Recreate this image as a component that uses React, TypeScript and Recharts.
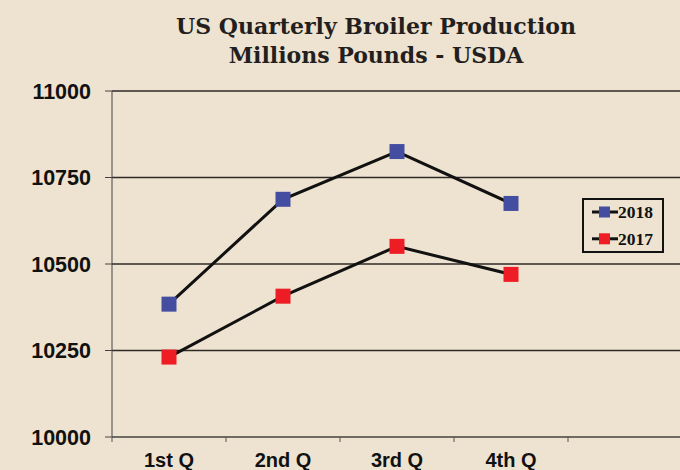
import React from "react"
import { LineChart, Line, XAxis, YAxis, CartesianGrid, Legend } from "recharts"

const quarters = ["1st Q", "2nd Q", "3rd Q", "4th Q", ""]
const prod2018 = [10384, 10687, 10825, 10675, null]
const prod2017 = [10231, 10407, 10551, 10470, null]
const yTicks = [10000, 10250, 10500, 10750, 11000]

const BG = "#eee3d0"
const BLUE = "#444ea0"
const RED = "#ee1c25"

const data = quarters.map((q, i) => ({ q, y2018: prod2018[i], y2017: prod2017[i] }))

const square = (color: string, size: number) => (props: any) => {
  const { cx, cy, index } = props
  if (cx == null || cy == null || props.value == null) return <g key={index} />
  return <rect key={index} x={cx - size / 2} y={cy - size / 2} width={size} height={size} fill={color} />
}

const QuarterTick = (props: any) => {
  const { x, y, payload } = props
  const half = payload && payload.offset ? payload.offset : 57
  const edge = x - half
  return (
    <g>
      <line x1={edge} y1={y} x2={edge} y2={y + 5} stroke="#555" strokeWidth={1} />
      <text x={x} y={y + 30} textAnchor="middle" fontFamily="Liberation Sans, Arial" fontWeight="bold" fontSize={20} fill="#111">
        {payload.value}
      </text>
    </g>
  )
}

const LegendBox = (props: any) => {
  // newest year on top
  const items = [...(props.payload || [])].sort((a: any, b: any) => (a.value < b.value ? 1 : -1))
  return (
    <svg width={82} height={55} style={{ display: "block" }}>
      <rect x={1} y={1} width={80} height={53} fill="none" stroke="#111" strokeWidth={2} />
      {items.map((it: any, i: number) => {
        const cy = 14 + i * 26.8
        return (
          <g key={it.value}>
            <line x1={10} y1={cy} x2={36} y2={cy} stroke="#111" strokeWidth={3} />
            <rect x={17} y={cy - 5.5} width={11} height={11} fill={it.payload.fill || it.color} />
            <text x={36} y={cy + 6.3} fontFamily="Liberation Serif, Times New Roman" fontWeight="bold" fontSize={17.5} fill="#111">
              {it.value}
            </text>
          </g>
        )
      })}
    </svg>
  )
}

export default function App() {
  return (
    <div style={{ position: "absolute", left: 0, top: 0, width: 680, height: 470, overflow: "hidden", background: BG }}>
      <div
        style={{
          position: "absolute",
          left: 0,
          top: 12,
          width: 752,
          textAlign: "center",
          fontFamily: "DejaVu Serif, serif",
          fontWeight: "bold",
          fontSize: 22,
          lineHeight: "29px",
          color: "#231f20",
        }}
      >
        US Quarterly Broiler Production
        <br />
        Millions Pounds - USDA
      </div>
      <LineChart width={690} height={470} data={data} margin={{ top: 91, right: 8, bottom: 0, left: 0 }}>
        <CartesianGrid vertical={false} stroke="#2e2a26" strokeWidth={1.5} />
        <XAxis
          dataKey="q"
          scale="band"
          height={33}
          tickLine={false}
          tickSize={0}
          tickMargin={0}
          axisLine={{ stroke: "#6f6a62", strokeWidth: 2 }}
          tick={<QuarterTick />}
          interval={0}
        />
        <YAxis
          domain={[10000, 11000]}
          ticks={yTicks}
          width={112}
          tickSize={7}
          tickMargin={14}
          axisLine={{ stroke: "#444" }}
          tickLine={{ stroke: "#444" }}
          tick={{ fontFamily: "Liberation Sans, Arial", fontWeight: "bold", fontSize: 21.5, fill: "#111" }}
        />
        <Legend
          layout="vertical"
          align="center"
          verticalAlign="middle"
          content={<LegendBox />}
          wrapperStyle={{ left: 582, top: 198, width: 82, height: 55 }}
        />
        <Line
          dataKey="y2018"
          name="2018"
          stroke="#111"
          strokeWidth={3}
          fill={BLUE}
          dot={square(BLUE, 15)}
          activeDot={false}
          isAnimationActive={false}
        />
        <Line
          dataKey="y2017"
          name="2017"
          stroke="#111"
          strokeWidth={3}
          fill={RED}
          dot={square(RED, 15)}
          activeDot={false}
          isAnimationActive={false}
        />
      </LineChart>
    </div>
  )
}
